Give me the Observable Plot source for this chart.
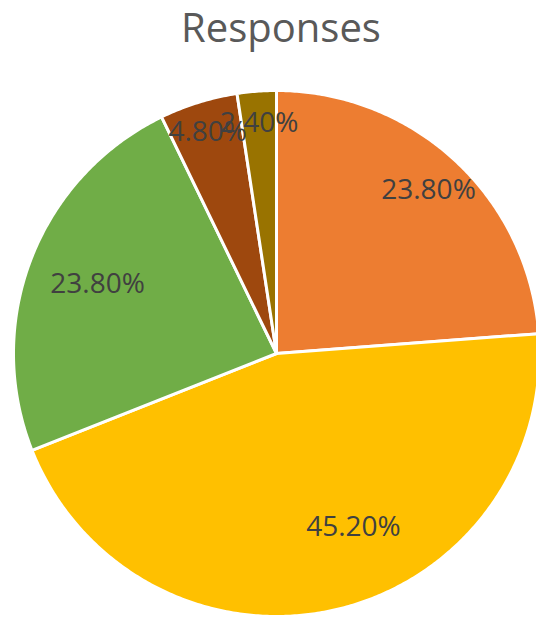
<!DOCTYPE html>
<html>
<head>
<meta charset="utf-8">
<script src="https://cdn.jsdelivr.net/npm/d3@7"></script>
<script src="https://cdn.jsdelivr.net/npm/@observablehq/plot@0.6"></script>
<style>
  body { margin: 0; background: #fff; width: 536px; height: 617px; overflow: hidden; }
  #title { height: 60px; line-height: 53px; font-family: "Open Sans", sans-serif; font-size: 40px; color: #595959; text-align: center; position: relative; left: 13px; }
</style>
</head>
<body>
<div id="title">Responses</div>
<div id="chart"></div>
<script>
// Data (clockwise from 12 o'clock)
const categories = ["Slice 1", "Slice 2", "Slice 3", "Slice 4", "Slice 5"];
const values = [23.8, 45.2, 23.8, 4.8, 2.4];
const labels = ["23.80%", "45.20%", "23.80%", "4.80%", "2.40%"];
const colors = ["#ED7D31", "#FFC000", "#70AD47", "#9E480E", "#997300"];

// Label placement (layout only): radius fraction and angle shift in degrees
const labelRadius = [0.85, 0.72, 0.73, 0.88, 0.88];
const labelShift = [0, -11, 0, 0, 0];

const total = d3.sum(values);
let acc = 0;
const slices = values.map((v, i) => {
  const a0 = acc / total * 2 * Math.PI;
  acc += v;
  const a1 = acc / total * 2 * Math.PI;
  return { category: categories[i], value: v, label: labels[i], color: colors[i], a0, a1 };
});

function polygon(s) {
  const pts = [{ x: 0, y: 0 }];
  const n = Math.max(4, Math.ceil((s.a1 - s.a0) / (Math.PI / 360)));
  for (let k = 0; k <= n; k++) {
    const a = s.a0 + (s.a1 - s.a0) * k / n;
    pts.push({ x: Math.sin(a), y: Math.cos(a) });
  }
  pts.push({ x: 0, y: 0 });
  return pts;
}

const sliceMarks = slices.map(s =>
  Plot.line(polygon(s), {
    x: "x", y: "y", fill: s.color, stroke: "white", strokeWidth: 3,
    strokeLinejoin: "round", curve: "linear"
  })
);

const labelData = slices.map((s, i) => {
  const a = (s.a0 + s.a1) / 2 + labelShift[i] * Math.PI / 180;
  return { x: Math.sin(a) * labelRadius[i], y: Math.cos(a) * labelRadius[i], label: s.label };
});

const chart = Plot.plot({
  width: 536,
  height: 557,
  margin: 0,
  x: { domain: [-1, 1], range: [13, 539], axis: null },
  y: { domain: [-1, 1], range: [556, 30], axis: null },
  style: { fontFamily: "Open Sans, sans-serif", overflow: "visible", background: "transparent" },
  marks: [
    ...sliceMarks,
    Plot.text(labelData, {
      x: "x", y: "y", text: "label", fontSize: 28, fill: "#404040",
      textAnchor: "middle", lineAnchor: "middle"
    })
  ]
});
document.getElementById("chart").appendChild(chart);
</script>
</body>
</html>
